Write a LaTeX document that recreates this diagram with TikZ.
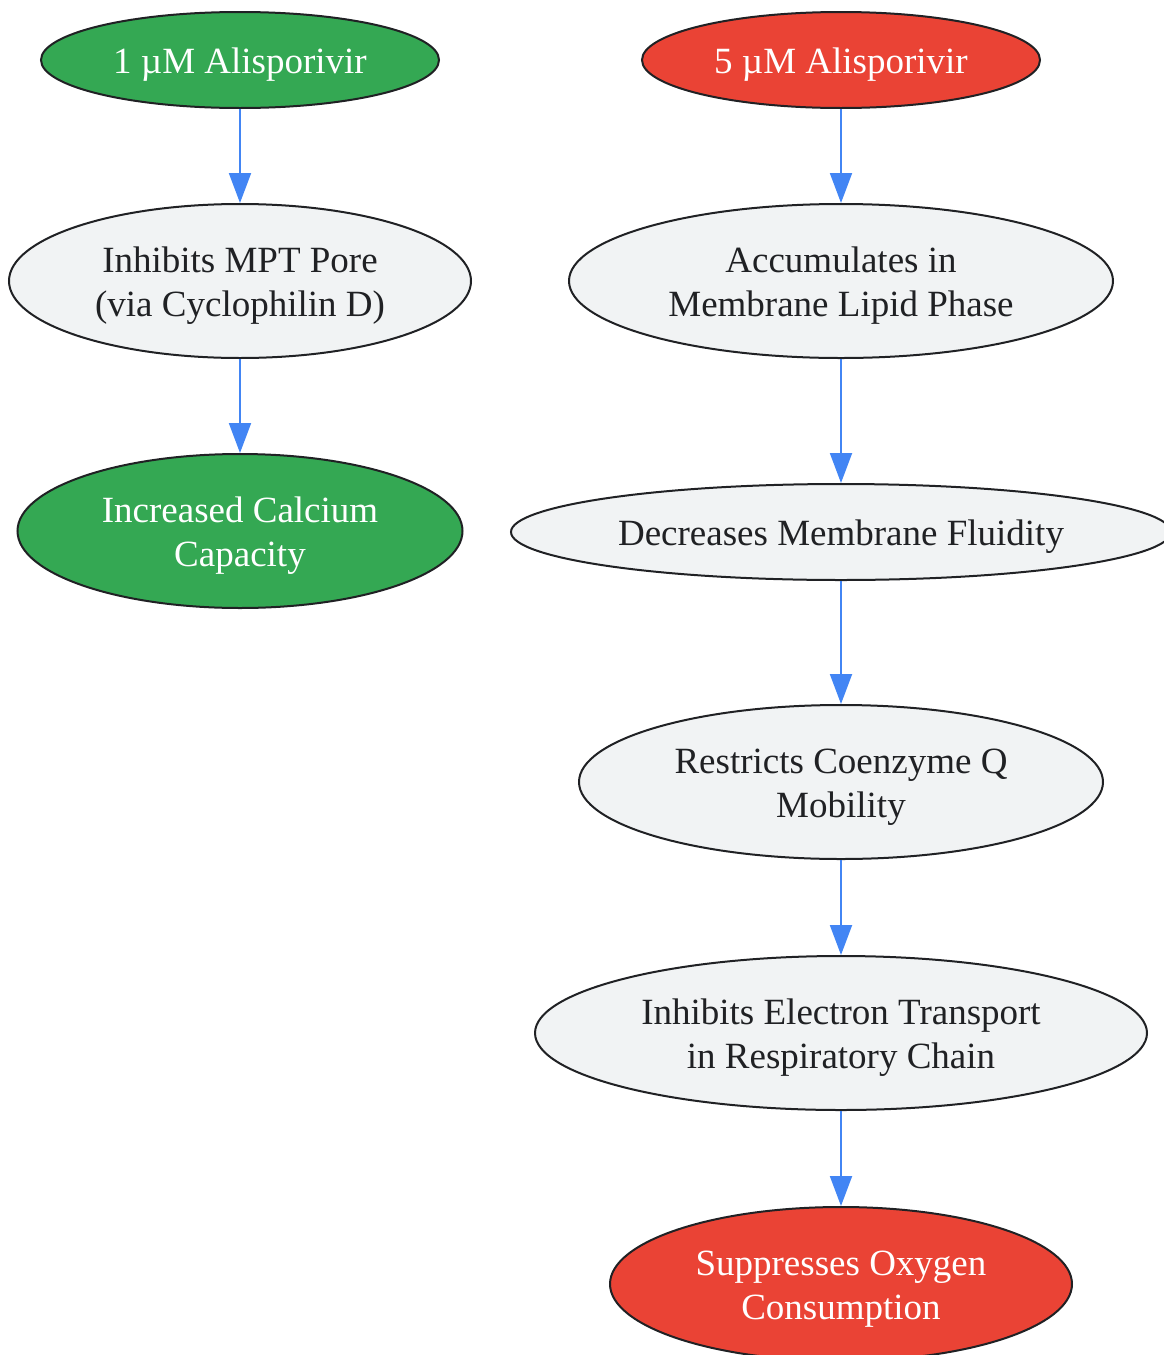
\documentclass[tikz,border=0pt]{standalone}
\usepackage{fontspec}
\setmainfont{Liberation Serif}
\usetikzlibrary{shapes.geometric,arrows.meta}
\definecolor{goodgreen}{HTML}{34A853}
\definecolor{badred}{HTML}{EA4335}
\definecolor{stepgrey}{HTML}{F1F3F4}
\definecolor{inkdark}{HTML}{202124}
\definecolor{linkblue}{HTML}{4285F4}
% text sits a little below the ellipse centre
\newcommand\blobtext[1]{\raisebox{-5pt}[\height][\depth]{\begin{tabular}{@{}c@{}}#1\end{tabular}}}
\begin{document}
\begin{tikzpicture}[x=1pt,y=-1pt,
    blob/.style 2 args={ellipse,draw=inkdark,line width=2pt,inner sep=0pt,
      minimum width=#1*2pt,minimum height=#2*2pt,font=\fontsize{37}{44}\selectfont},
    effect/.style={fill=stepgrey,text=inkdark},
    good/.style={fill=goodgreen,text=white},
    bad/.style={fill=badred,text=white},
    link/.style={draw=linkblue,line width=2pt,-{Triangle[length=30pt,width=22pt]}}]
    \useasboundingbox (0,0) rectangle (1163,1355);

    % low dose branch
    \node[blob={199}{48},good] (low) at (240,60) {\blobtext{1 µM Alisporivir}};
    \node[blob={231}{77},effect] (mpt) at (240,281) {\blobtext{Inhibits MPT Pore\\(via Cyclophilin D)}};
    \node[blob={222.5}{77},good] (calcium) at (240,531) {\blobtext{Increased Calcium\\Capacity}};

    % high dose branch
    \node[blob={199}{48},bad] (high) at (841,60) {\blobtext{5 µM Alisporivir}};
    \node[blob={272}{77},effect] (lipid) at (841,281) {\blobtext{Accumulates in\\Membrane Lipid Phase}};
    \node[blob={330}{48},effect] (fluid) at (841,532) {\blobtext{Decreases Membrane Fluidity}};
    \node[blob={262}{77},effect] (coq) at (841,782) {\blobtext{Restricts Coenzyme Q\\Mobility}};
    \node[blob={306}{77},effect] (etc) at (841,1033) {\blobtext{Inhibits Electron Transport\\in Respiratory Chain}};
    \node[blob={231}{77},bad] (oxygen) at (841,1284) {\blobtext{Suppresses Oxygen\\Consumption}};

    \draw[link] (low) -- (mpt);
    \draw[link] (mpt) -- (calcium);
    \draw[link] (high) -- (lipid);
    \draw[link] (lipid) -- (fluid);
    \draw[link] (fluid) -- (coq);
    \draw[link] (coq) -- (etc);
    \draw[link] (etc) -- (oxygen);
\end{tikzpicture}
\end{document}
